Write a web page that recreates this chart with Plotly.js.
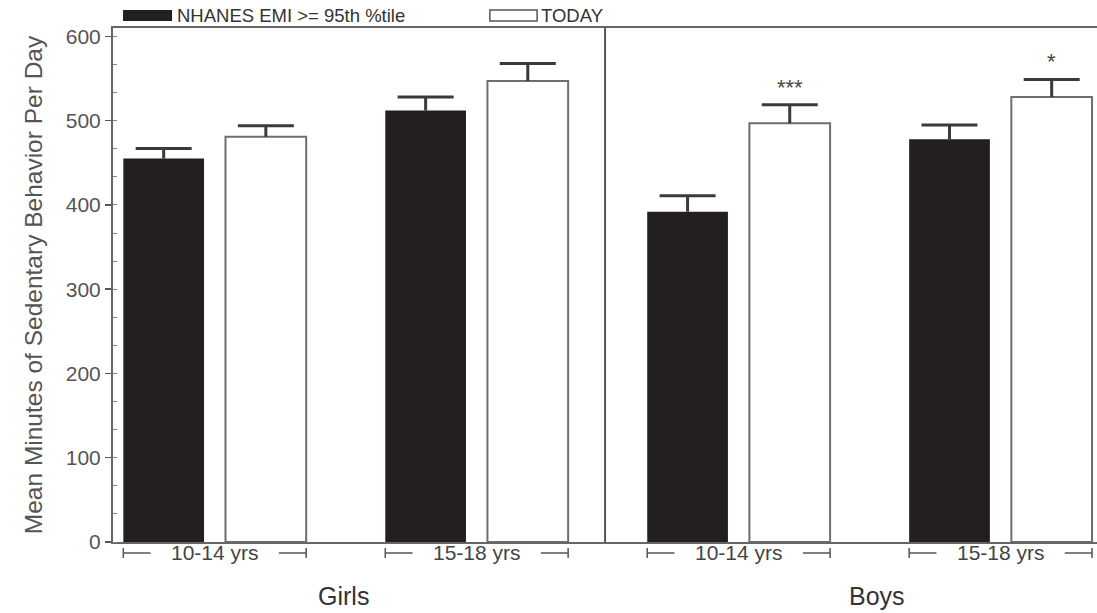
<!DOCTYPE html>
<html>
<head>
<meta charset="utf-8">
<script src="https://cdn.plot.ly/plotly-3.0.1.min.js"></script>
<style>
  html, body { margin: 0; padding: 0; background: #fff; }
</style>
</head>
<body>
<div id="chart" style="width:1097px;height:613px"></div>
<script>
// Mean daily sedentary minutes by sex and age group
const groups      = ['Girls 10-14', 'Girls 15-18', 'Boys 10-14', 'Boys 15-18'];
const ageLabels   = ['10-14 yrs', '15-18 yrs', '10-14 yrs', '15-18 yrs'];
const sexLabels   = ['Girls', 'Boys'];
const seriesNames = ['NHANES EMI >= 95th %tile', 'TODAY'];
const nhanes      = [455, 512, 392, 478];
const nhanesErr   = [12, 16, 19, 17];
const today       = [481, 547, 497, 528];
const todayErr    = [13, 21, 22, 21];
const sigMarks    = ['', '', '***', '*'];
const yTicks      = [0, 100, 200, 300, 400, 500, 600];

const FONT = 'Liberation Sans, Arial, sans-serif';
const xs = groups.map((_, i) => i);

// bar geometry (in x-axis units) derived from the gap settings
const bargap = 0.22, bargroupgap = 0.21;
const slot = (1 - bargap) / 2;
const barW = slot * (1 - bargroupgap);
const halfSpan = slot / 2 + barW / 2;

const ERR_COLOR = '#3a3a3a';

// upward-only error stem (no caps), plus a separate cap marker at the top
function stem(vals, errs) {
  return { type: 'data', symmetric: false, array: errs, arrayminus: errs.map(() => 0),
           color: ERR_COLOR, thickness: 3, width: 0 };
}
function caps(offset, vals, errs) {
  return {
    type: 'scatter', mode: 'markers', x: xs.map(g => g + offset),
    y: vals.map((v, i) => v + errs[i]),
    marker: { symbol: 'line-ew', size: 40, line: { color: ERR_COLOR, width: 3 } },
    hoverinfo: 'skip', showlegend: false, cliponaxis: false
  };
}

const traces = [
  {
    type: 'bar', name: seriesNames[0], x: xs, y: nhanes,
    marker: { color: '#231f20', line: { width: 0 } },
    error_y: stem(nhanes, nhanesErr),
    hoverinfo: 'y', showlegend: false
  },
  {
    type: 'bar', name: seriesNames[1], x: xs, y: today,
    marker: { color: '#ffffff', line: { color: '#6e6e6e', width: 2 } },
    error_y: stem(today, todayErr),
    hoverinfo: 'y', showlegend: false
  },
  caps(-slot / 2, nhanes, nhanesErr),
  caps(slot / 2, today, todayErr)
];

const shapes = [];
const annotations = [];

// age-range brackets under each pair of bars
const brY = -0.0214, brTick = 0.0097, textHalf = 0.245;
xs.forEach((g, i) => {
  const l = g - halfSpan, r = g + halfSpan;
  const line = { type: 'line', xref: 'x', yref: 'paper', line: { color: '#555', width: 1.5 } };
  shapes.push(Object.assign({}, line, { x0: l, x1: g - textHalf, y0: brY, y1: brY }));
  shapes.push(Object.assign({}, line, { x0: g + textHalf, x1: r, y0: brY, y1: brY }));
  shapes.push(Object.assign({}, line, { x0: l, x1: l, y0: brY - brTick, y1: brY + brTick }));
  shapes.push(Object.assign({}, line, { x0: r, x1: r, y0: brY - brTick, y1: brY + brTick }));
  annotations.push({
    x: g, y: brY, xref: 'x', yref: 'paper', text: ageLabels[i], showarrow: false,
    xanchor: 'center', yanchor: 'middle', font: { family: FONT, size: 21, color: '#444' }
  });
  if (sigMarks[i]) {
    annotations.push({
      x: g + slot / 2, y: today[i] + todayErr[i], xref: 'x', yref: 'y', text: sigMarks[i],
      showarrow: false, xanchor: 'center', yanchor: 'bottom', yshift: 3,
      font: { family: FONT, size: 22, color: '#444' }
    });
  }
});

// sex labels centred under each half
[0.49, 2.53].forEach((x, k) => {
  annotations.push({
    x: x, y: -0.106, xref: 'x', yref: 'paper', text: sexLabels[k], showarrow: false,
    xanchor: 'center', yanchor: 'middle', font: { family: FONT, size: 25, color: '#333' }
  });
});

// divider between girls and boys
shapes.push({ type: 'line', xref: 'x', yref: 'paper', x0: 1.49, x1: 1.49, y0: 0, y1: 1,
              line: { color: '#555', width: 2 } });

// legend drawn along the top edge
shapes.push({ type: 'rect', xref: 'paper', yref: 'paper', x0: 0.0102, x1: 0.0600, y0: 1.0136, y1: 1.035,
              fillcolor: '#231f20', line: { width: 0 } });
shapes.push({ type: 'rect', xref: 'paper', yref: 'paper', x0: 0.383, x1: 0.431, y0: 1.0136, y1: 1.035,
              fillcolor: '#fff', line: { color: '#555', width: 1.5 } });
annotations.push({ x: 0.0635, y: 1.025, xref: 'paper', yref: 'paper', text: seriesNames[0],
                   showarrow: false, xanchor: 'left', yanchor: 'middle',
                   font: { family: FONT, size: 18.5, color: '#333' } });
annotations.push({ x: 0.4325, y: 1.025, xref: 'paper', yref: 'paper', text: seriesNames[1],
                   showarrow: false, xanchor: 'left', yanchor: 'middle',
                   font: { family: FONT, size: 18.5, color: '#333' } });

const layout = {
  width: 1097, height: 613,
  margin: { l: 113, r: 0, t: 28, b: 71, pad: 0 },
  paper_bgcolor: '#fff', plot_bgcolor: '#fff',
  barmode: 'group', bargap: bargap, bargroupgap: bargroupgap,
  showlegend: false,
  xaxis: {
    type: 'linear', range: [-0.3885, 3.368], showgrid: false, zeroline: false,
    showticklabels: false, ticks: '', showline: true, linecolor: '#666', linewidth: 2, mirror: true,
    fixedrange: true
  },
  yaxis: {
    range: [0, 610], tickvals: yTicks, ticktext: yTicks.map(String),
    ticks: 'outside', ticklen: 6, tickwidth: 1.5, tickcolor: '#555',
    minor: { tick0: 0, dtick: 100 / 3, ticks: 'inside', ticklen: 4, tickwidth: 1, tickcolor: '#888' },
    showgrid: false, zeroline: false, showline: true, linecolor: '#666', linewidth: 2,
    tickfont: { family: FONT, size: 21, color: '#555' },
    title: { text: 'Mean Minutes of Sedentary Behavior Per Day', standoff: 16,
             font: { family: FONT, size: 24.5, color: '#555' } },
    fixedrange: true
  },
  shapes: shapes,
  annotations: annotations
};

Plotly.newPlot('chart', traces, layout, { displayModeBar: false, staticPlot: true });
</script>
</body>
</html>
